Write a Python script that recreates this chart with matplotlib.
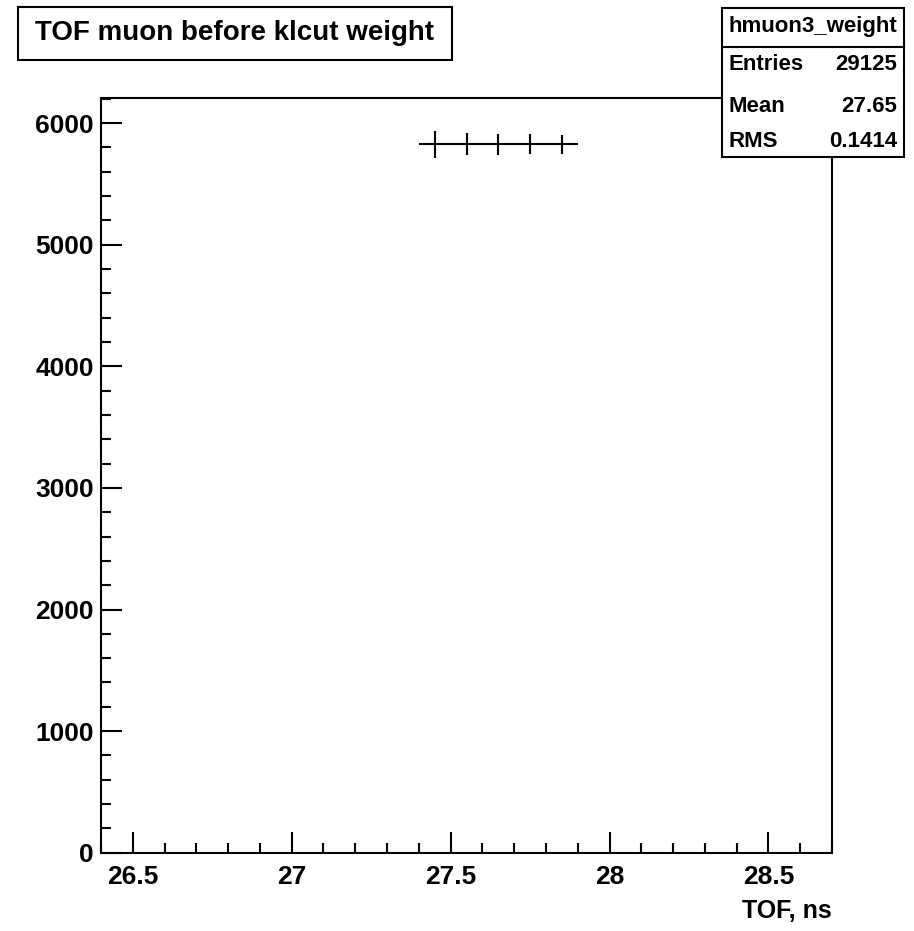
import matplotlib
matplotlib.use("Agg")
import matplotlib.pyplot as plt
from matplotlib.patches import Rectangle
from matplotlib.ticker import MultipleLocator

# histogram hmuon3_weight: TOF of muons before klcut, weighted
bin_centers = [27.45, 27.55, 27.65, 27.75, 27.85]
bin_counts = [5825, 5825, 5825, 5825, 5825]
bin_errors = [108, 90, 84, 82, 75]
bin_half_width = 0.05

hist_name = "hmuon3_weight"
stat_names = ["Entries", "Mean", "RMS"]
stat_values = ["29125", "27.65", "0.1414"]

title = "TOF muon before klcut weight"
x_label = "TOF, ns"

plt.rcParams['font.family'] = ["Liberation Sans", "DejaVu Sans"]
plt.rcParams['font.weight'] = 'bold'

fig = plt.figure(figsize=(9.14, 9.31), dpi=100)
ax = fig.add_axes([0.1105, 0.0841, 0.7998, 0.8103])

ax.errorbar(bin_centers, bin_counts, xerr=bin_half_width, yerr=bin_errors,
            fmt='none', ecolor='black', elinewidth=1.5, capsize=0)

ax.set_xlim(26.4, 28.7)
ax.set_ylim(0, 6204)

ax.xaxis.set_major_locator(MultipleLocator(0.5))
ax.xaxis.set_minor_locator(MultipleLocator(0.1))
ax.yaxis.set_major_locator(MultipleLocator(1000))
ax.yaxis.set_minor_locator(MultipleLocator(200))
ax.xaxis.set_major_formatter(plt.FuncFormatter(lambda v, p: f"{v:g}"))
ax.yaxis.set_major_formatter(plt.FuncFormatter(lambda v, p: f"{v:g}"))

ax.tick_params(which='both', direction='in', top=False, right=False,
               width=1.5, labelsize=19)
ax.tick_params(which='major', length=15)
ax.tick_params(which='minor', length=7.5)
ax.tick_params(axis='x', which='major', pad=9)
ax.tick_params(axis='y', which='major', pad=5)
for s in ax.spines.values():
    s.set_linewidth(1.5)

ax.set_xlabel(x_label, fontsize=18, fontweight='bold')
ax.xaxis.set_label_coords(1.0, -0.062)
ax.xaxis.label.set_horizontalalignment('right')

# title box
fig.add_artist(Rectangle((0.0197, 0.9356), 0.4748, 0.0569, transform=fig.transFigure,
                         facecolor='white', edgecolor='black', linewidth=1.5))
fig.text(0.2571, 0.9645, title, fontsize=20, fontweight='bold',
         ha='center', va='center')

# stats box
bx0, bx1 = 0.790, 0.989
by0, by1 = 0.8314, 0.9914
fig.add_artist(Rectangle((bx0, by0), bx1 - bx0, by1 - by0, transform=fig.transFigure,
                         facecolor='white', edgecolor='black', linewidth=1.5, zorder=5))
fig.add_artist(plt.Line2D([bx0, bx1], [0.9495, 0.9495], transform=fig.transFigure,
                          color='black', linewidth=1.5, zorder=6))
fig.text((bx0 + bx1) / 2, 0.9715, hist_name, fontsize=16, fontweight='bold',
         ha='center', va='center', zorder=7)
row_y = [0.9307, 0.8861, 0.8485]
for name, val, y in zip(stat_names, stat_values, row_y):
    fig.text(bx0 + 0.007, y, name, fontsize=16, fontweight='bold',
             ha='left', va='center', zorder=7)
    fig.text(bx1 - 0.007, y, val, fontsize=16, fontweight='bold',
             ha='right', va='center', zorder=7)

fig.savefig("out.png", dpi=100, facecolor='white')
